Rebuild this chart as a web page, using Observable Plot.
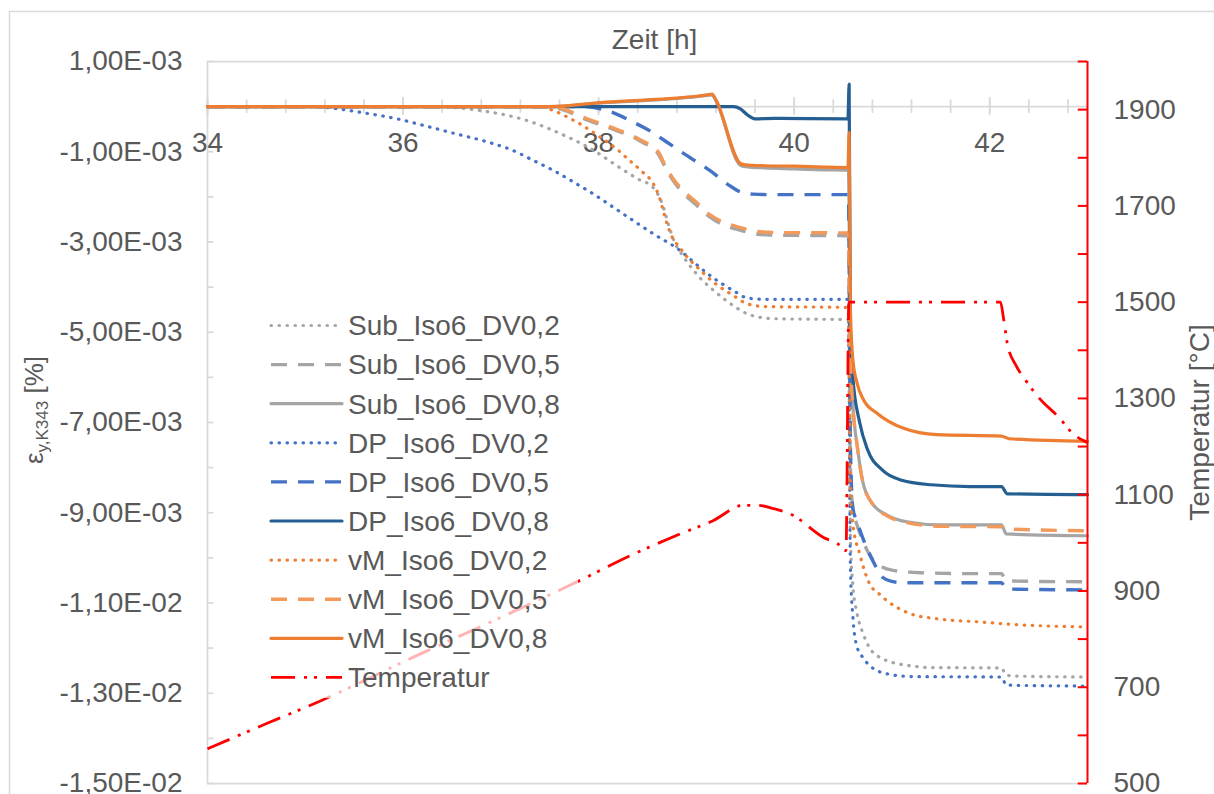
<!DOCTYPE html>
<html><head><meta charset="utf-8">
<script src="https://cdn.jsdelivr.net/npm/d3@7"></script>
<script src="https://cdn.jsdelivr.net/npm/@observablehq/plot@0.6"></script>
<style>
html,body{margin:0;padding:0;background:#fff;}
#chart{position:relative;width:1214px;height:794px;overflow:hidden;}
</style></head><body><div id="chart"></div>
<script>
// ---------- data (time [h], strain in units of 1E-03 %) ----------
const xMajorTicks = [34, 36, 38, 40, 42];
const leftTickValues = [1, -1, -3, -5, -7, -9, -11, -13, -15];
const rightTickValues = [500, 700, 900, 1100, 1300, 1500, 1700, 1900];
const seriesNames = ["Sub_Iso6_DV0,2","Sub_Iso6_DV0,5","Sub_Iso6_DV0,8","DP_Iso6_DV0,2","DP_Iso6_DV0,5","DP_Iso6_DV0,8","vM_Iso6_DV0,2","vM_Iso6_DV0,5","vM_Iso6_DV0,8","Temperatur"];

const sub02 = [[34,0],[36.3,0],[36.8,-0.09],[37.27,-0.31],[37.61,-0.6],[37.95,-0.97],[38.2,-1.33],[38.4,-1.6],[38.56,-1.8],[38.65,-2.15],[38.72,-2.65],[38.77,-2.97],[38.87,-3.33],[39.04,-3.8],[39.18,-4.08],[39.35,-4.37],[39.52,-4.59],[39.65,-4.67],[39.8,-4.7],[40.555,-4.72],[40.575,-9.5],[40.6,-10.6],[40.64,-11.2],[40.7,-11.65],[40.77,-11.99],[40.87,-12.2],[40.95,-12.28],[41.15,-12.38],[41.4,-12.43],[42.12,-12.44],[42.17,-12.6],[42.3,-12.62],[43,-12.64]];
const sub05 = [[34,0],[37.5,0],[37.7,-0.12],[37.84,-0.26],[38.12,-0.48],[38.43,-0.77],[38.61,-1.05],[38.68,-1.34],[38.75,-1.6],[38.85,-1.88],[39.0,-2.18],[39.14,-2.45],[39.3,-2.64],[39.45,-2.74],[39.6,-2.82],[39.8,-2.85],[40.555,-2.86],[40.575,-8.0],[40.6,-8.9],[40.64,-9.25],[40.7,-9.6],[40.75,-9.85],[40.82,-10.08],[40.9,-10.2],[41.0,-10.27],[41.29,-10.33],[41.9,-10.35],[42.12,-10.35],[42.17,-10.51],[43,-10.53]];
const sub08 = [[34,0],[37.5,0],[38.02,0.08],[38.5,0.14],[38.8,0.18],[39.0,0.22],[39.11,0.25],[39.16,0.26],[39.2,0.13],[39.45,-1.3],[39.5,-1.33],[39.7,-1.36],[40.0,-1.38],[40.3,-1.4],[40.555,-1.41],[40.575,-5.5],[40.6,-6.6],[40.65,-7.6],[40.7,-8.3],[40.8,-8.8],[40.95,-9.05],[41.15,-9.2],[41.5,-9.27],[42.12,-9.27],[42.17,-9.47],[43,-9.51]];
const dp02 = [[34,0],[35.1,0],[35.3,-0.04],[35.63,-0.15],[35.94,-0.27],[36.18,-0.4],[36.48,-0.57],[36.89,-0.8],[37.1,-0.95],[37.34,-1.2],[37.55,-1.43],[37.75,-1.68],[37.95,-1.94],[38.15,-2.23],[38.35,-2.52],[38.56,-2.82],[38.84,-3.2],[39.0,-3.5],[39.17,-3.79],[39.38,-4.08],[39.52,-4.24],[39.7,-4.27],[40.555,-4.27],[40.575,-10.2],[40.6,-11.3],[40.64,-11.95],[40.7,-12.2],[40.78,-12.4],[40.95,-12.57],[41.2,-12.63],[42.12,-12.64],[42.17,-12.82],[43,-12.84]];
const dp05 = [[34,0],[37.85,0],[38.09,-0.09],[38.36,-0.35],[38.55,-0.57],[38.7,-0.79],[38.9,-1.08],[39.14,-1.42],[39.34,-1.75],[39.44,-1.88],[39.58,-1.94],[39.75,-1.95],[40.555,-1.95],[40.575,-7.5],[40.6,-8.9],[40.64,-9.18],[40.7,-9.55],[40.77,-9.91],[40.85,-10.25],[40.91,-10.44],[41.0,-10.52],[41.11,-10.55],[42.12,-10.55],[42.17,-10.69],[43,-10.71]];
const dp08 = [[34,0],[39.38,0],[39.45,-0.05],[39.52,-0.18],[39.6,-0.27],[39.8,-0.26],[40.55,-0.27],[40.562,0.5],[40.575,-5.0],[40.6,-6.0],[40.67,-7.0],[40.75,-7.6],[40.9,-8.05],[41.1,-8.28],[41.4,-8.38],[41.8,-8.42],[42.12,-8.42],[42.18,-8.58],[43,-8.6]];
const vm02 = [[34,0],[37.4,0],[37.55,-0.1],[37.75,-0.31],[38.02,-0.68],[38.18,-0.93],[38.32,-1.2],[38.45,-1.45],[38.56,-1.71],[38.62,-2.0],[38.66,-2.3],[38.7,-2.6],[38.75,-2.88],[38.83,-3.12],[38.9,-3.32],[39.01,-3.56],[39.18,-3.9],[39.38,-4.19],[39.52,-4.37],[39.7,-4.43],[40.555,-4.45],[40.575,-8.3],[40.6,-9.24],[40.67,-9.91],[40.77,-10.57],[40.87,-10.8],[40.95,-10.95],[41.19,-11.24],[41.46,-11.35],[41.9,-11.42],[42.2,-11.47],[43,-11.53]];
const vm05 = [[34,0],[37.55,0],[37.7,-0.1],[37.84,-0.23],[38.12,-0.45],[38.43,-0.74],[38.61,-1.0],[38.68,-1.3],[38.75,-1.56],[38.85,-1.83],[39.0,-2.12],[39.14,-2.4],[39.3,-2.58],[39.45,-2.68],[39.6,-2.76],[39.8,-2.79],[40.555,-2.8],[40.575,-5.5],[40.6,-6.6],[40.65,-7.6],[40.7,-8.3],[40.8,-8.8],[40.95,-9.07],[41.15,-9.22],[41.5,-9.3],[42.12,-9.31],[42.2,-9.36],[43,-9.4]];
const vm08 = [[34,0],[37.5,0],[38.02,0.09],[38.5,0.15],[38.8,0.19],[39.0,0.23],[39.11,0.26],[39.16,0.28],[39.2,0.15],[39.45,-1.26],[39.5,-1.29],[39.7,-1.31],[40.0,-1.32],[40.3,-1.34],[40.55,-1.35],[40.562,-0.57],[40.575,-4.5],[40.6,-5.6],[40.64,-6.1],[40.71,-6.5],[40.85,-6.8],[41.12,-7.13],[41.46,-7.27],[42.12,-7.3],[42.2,-7.36],[43,-7.42]];
// temperature [°C] (right axis)
const temp = [[34,572],[34.61,625],[35.16,672],[36.1,762],[37.0,845],[37.81,922],[38.33,974],[38.84,1019],[39.17,1046],[39.48,1078],[39.62,1078],[39.79,1071],[39.99,1057],[40.1,1042],[40.17,1030],[40.3,1011],[40.44,999],[40.53,984],[40.56,1500],[42.11,1500],[42.14,1468],[42.18,1414],[42.27,1368],[42.37,1337],[42.5,1302],[42.71,1260],[42.85,1227],[43,1208]];

// ---------- styles ----------
const DOT = "0.5 7.5", DASH = "16 11", SOLID = null, DASHDOTDOT = "24 9 3 7 3 9";
const styles = [
  {stroke:"#A5A5A5", dash:DOT, cap:"round", w:3.2},
  {stroke:"#A5A5A5", dash:DASH, cap:"butt", w:3.4},
  {stroke:"#A5A5A5", dash:SOLID, cap:"round", w:3.2},
  {stroke:"#4472C4", dash:DOT, cap:"round", w:3.2},
  {stroke:"#4472C4", dash:DASH, cap:"butt", w:3.4},
  {stroke:"#255E91", dash:SOLID, cap:"round", w:3.2},
  {stroke:"#ED7D31", dash:DOT, cap:"round", w:3.2},
  {stroke:"#F29A5C", dash:DASH, cap:"butt", w:3.4},
  {stroke:"#ED7D31", dash:SOLID, cap:"round", w:3.2},
  {stroke:"#FF0000", dash:DASHDOTDOT, cap:"butt", w:2.8}
];
const strainSeries = [sub02, sub05, sub08, dp02, dp05, dp08, vm02, vm05, vm08];

// temperature -> left-axis units (right axis 500..2000 maps onto -15..1)
const yT = T => -15 + (T - 500) / 1500 * 16;
const Tfromy = y => String(Math.round(500 + (y + 15) / 16 * 1500));
const fmtE = v => {
  const s = (v * 1e-3).toExponential(2);
  const [m, e] = s.split("e");
  const n = +e;
  return m.replace(".", ",") + "E" + (n < 0 ? "-" : "+") + String(Math.abs(n)).padStart(2, "0");
};
const xMinor = d3.range(0, 23).map(k => +(34 + 0.4 * k).toFixed(1));
const yMinor = d3.range(-15, 2, 1);
const tMinor = d3.range(500, 2001, 100);

const TXT = "#595959", AX = "#D9D9D9", FONT = "'Liberation Sans', Arial, sans-serif";

const lineMarks = strainSeries.map((data, i) => Plot.line(data, {
  x: d => d[0], y: d => d[1], curve: "monotone-x", stroke: styles[i].stroke, strokeWidth: styles[i].w,
  strokeDasharray: styles[i].dash, strokeLinecap: styles[i].cap, strokeLinejoin: "round"
}));
lineMarks.push(Plot.line(temp, {
  x: d => d[0], y: d => yT(d[1]), curve: "monotone-x", stroke: styles[9].stroke, strokeWidth: styles[9].w,
  strokeDasharray: styles[9].dash, strokeLinecap: styles[9].cap, strokeLinejoin: "round"
}));

const chart = Plot.plot({
  width: 1214, height: 794,
  marginLeft: 207, marginRight: 127, marginTop: 61, marginBottom: 11,
  x: {domain: [34, 43], axis: null},
  y: {domain: [-15, 1], axis: null},
  style: {fontFamily: FONT, fontSize: "28px", color: TXT, background: "white", overflow: "visible"},
  marks: [
    // frame / axis lines
    Plot.ruleY([1], {stroke: AX, strokeWidth: 1.75}),
    Plot.ruleY([-15], {stroke: AX, strokeWidth: 1.75}),
    Plot.ruleX([34], {stroke: AX, strokeWidth: 1.75}),
    Plot.ruleY([0], {stroke: AX, strokeWidth: 1.75}),
    Plot.ruleX(xMinor, {x: d => d, y1: -0.15, y2: 0.15, stroke: AX, strokeWidth: 1.75}),
    Plot.ruleX(xMajorTicks, {x: d => d, y1: -0.2, y2: 0.2, stroke: AX, strokeWidth: 1.75}),
    Plot.ruleY(yMinor, {y: d => d, x1: 34, x2: 34.065, stroke: AX, strokeWidth: 1.75}),
    // tick labels
    Plot.axisY({anchor: "left", ticks: leftTickValues, tickFormat: fmtE, tickSize: 0, tickPadding: 25, label: null, fontSize: 28}),
    Plot.axisY(rightTickValues.map(yT), {anchor: "right", tickFormat: Tfromy, tickSize: 0, tickPadding: 26, label: null, fontSize: 28}),
    Plot.text(xMajorTicks, {x: d => d, y: 0, dy: 36, text: d => String(d), fontSize: 28, fill: TXT}),
    // titles
    Plot.text(["Zeit [h]"], {frameAnchor: "top", textAnchor: "middle", lineAnchor: "middle", dx: 7, dy: -21, fontSize: 28, fill: TXT}),
    Plot.text(["Temperatur [°C]"], {frameAnchor: "right", textAnchor: "middle", lineAnchor: "middle", dx: 113, rotate: -90, fontSize: 28, fill: TXT}),
    // series
    ...lineMarks,
    // right axis (red)
    Plot.ruleY(tMinor, {y: d => yT(d), x1: 42.905, x2: 43, stroke: "#FF0000", strokeWidth: 2}),
    Plot.ruleX([43], {stroke: "#FF0000", strokeWidth: 2})
  ]
});
document.getElementById("chart").appendChild(chart);

// ---------- overlay: outer border, left axis title, legend ----------
const svg = d3.select(chart);
svg.insert("rect", ":first-child").attr("x", 9.5).attr("y", 11.5).attr("width", 1300).attr("height", 900)
  .attr("fill", "white").attr("stroke", AX).attr("stroke-width", 1.5);

const lt = svg.append("text").attr("transform", "translate(43,410) rotate(-90)")
  .attr("text-anchor", "middle").attr("font-family", FONT).attr("font-size", 26).attr("fill", TXT);
lt.append("tspan").text("ε");
lt.append("tspan").attr("font-size", 17).attr("dy", 5).text("y,K343");
lt.append("tspan").attr("dy", -5).text(" [%]");

const lg = svg.append("g").attr("font-family", FONT);
lg.append("rect").attr("x", 262).attr("y", 305).attr("width", 316).attr("height", 393)
  .attr("fill", "white").attr("fill-opacity", 0.7);
seriesNames.forEach((name, i) => {
  const y = 325.5 + i * 39.1, st = styles[i];
  lg.append("line").attr("x1", 271).attr("x2", 342).attr("y1", y).attr("y2", y)
    .attr("stroke", st.stroke).attr("stroke-width", st.w)
    .attr("stroke-dasharray", st.dash).attr("stroke-linecap", st.cap);
  lg.append("text").attr("x", 348).attr("y", y).attr("dy", "0.35em").attr("text-anchor", "start")
    .attr("font-size", 28).attr("fill", TXT).text(name);
});
</script>
</body></html>
